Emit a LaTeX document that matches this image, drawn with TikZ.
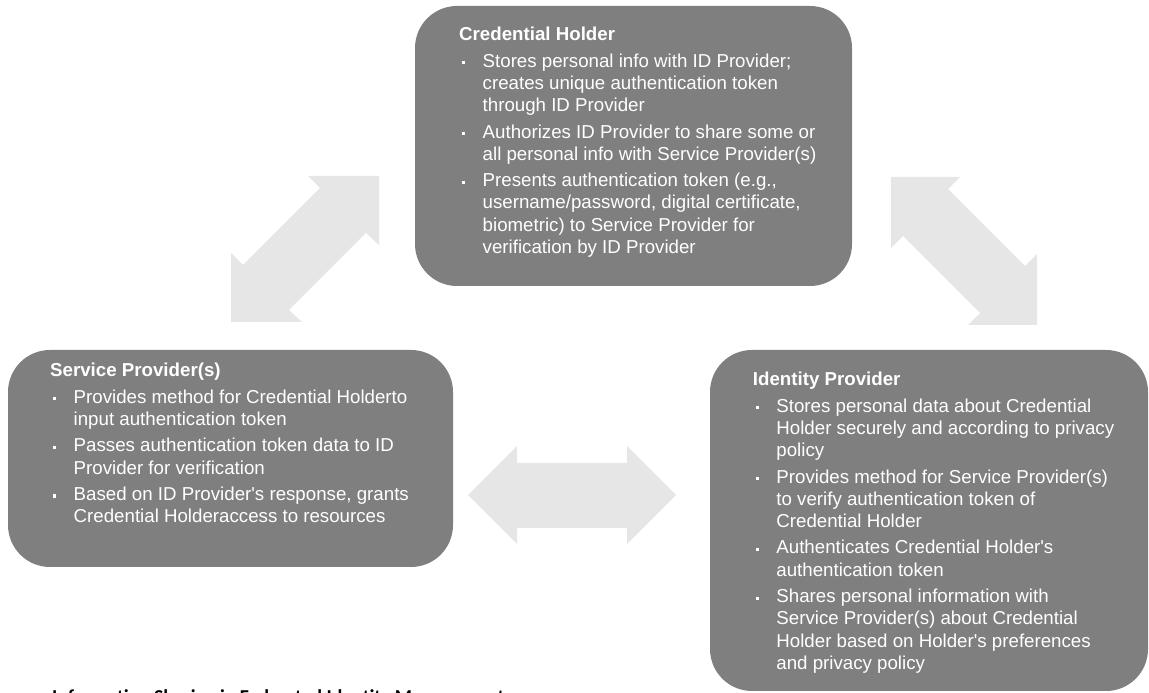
\documentclass[tikz,border=0pt]{standalone}
\usepackage{fontspec}
\newfontfamily\lib{Liberation Sans}
\newfontfamily\capfont{Carlito}
\definecolor{boxgray}{RGB}{127,127,127}
\definecolor{arrowgray}{RGB}{230,230,230}
\newcommand\btitle[1]{\noindent\textbf{#1}\par}
\newcommand\bitem{\par\noindent\hangindent=23.5pt\hangafter=0\llap{\makebox[20.5pt][l]{\raisebox{3pt}{\rule{3.1pt}{3.1pt}}}}}
\newcommand\boxtext[1]{\begin{minipage}[t]{430pt}\lib\fontsize{18.7}{22.2}\selectfont\raggedright\setlength\parskip{4.3pt}#1\end{minipage}}
\tikzset{
  infobox/.style={draw=none, fill=boxgray, rounded corners=42pt, inner sep=0pt},
  infotext/.style={anchor=base west, inner sep=0pt, text=white},
  blockarrow/.style={fill=arrowgray, draw=none}
}
\begin{document}
\begin{tikzpicture}[x=1pt,y=1pt]
\useasboundingbox (0,0) rectangle (1149,693);
% boxes
\node[infobox, minimum width=437pt, minimum height=280pt] (holder) at (633.5,547) {};
\node[infobox, minimum width=445pt, minimum height=217pt] (service) at (230.5,234.5) {};
\node[infobox, minimum width=438pt, minimum height=341pt] (idp) at (929,172.5) {};
% block arrows
\fill[blockarrow] (231,371) -- (231,440) -- (243,428) -- (320,505) -- (308,517) -- (379,517) -- (379,448) -- (366,460) -- (289,383) -- (302,371) -- cycle;
\fill[blockarrow] (891,516) -- (960,516) -- (948,504) -- (1025,427) -- (1037,439) -- (1037,368) -- (968,368) -- (980,380) -- (903,457) -- (891,445) -- cycle;
\fill[blockarrow] (468,198) -- (517,247) -- (517,230) -- (627,230) -- (627,247) -- (676,198) -- (627,149) -- (627,165) -- (517,165) -- (517,149) -- cycle;
% texts
\node[infotext] (holdertxt) at (459,652.3) {\boxtext{%
\btitle{Credential Holder}
\bitem Stores personal info with ID Provider;\newline creates unique authentication token\newline through ID Provider
\bitem Authorizes ID Provider to share some or\newline all personal info with Service Provider(s)
\bitem Presents authentication token (e.g.,\newline username/password, digital certificate,\newline biometric) to Service Provider for\newline verification by ID Provider}};
\node[infotext] (servicetxt) at (50,316.3) {\boxtext{%
\btitle{Service Provider(s)}
\bitem Provides method for Credential Holderto\newline input authentication token
\bitem Passes authentication token data to ID\newline Provider for verification
\bitem Based on ID Provider's response, grants\newline Credential Holderaccess to resources}};
\node[infotext] (idptxt) at (752.7,307.3) {\boxtext{%
\btitle{Identity Provider}
\bitem Stores personal data about Credential\newline Holder securely and according to privacy\newline policy
\bitem Provides method for Service Provider(s)\newline to verify authentication token of\newline Credential Holder
\bitem Authenticates Credential Holder's\newline authentication token
\bitem Shares personal information with\newline Service Provider(s) about Credential\newline Holder based on Holder's preferences\newline and privacy policy}};
% caption (cut by the page edge, as in the reference)
\node[anchor=base west, inner sep=0pt, font=\capfont\bfseries\fontsize{19.7}{24}\selectfont] (caption) at (52,-10.3) {Information Sharing in Federated Identity Management};
\end{tikzpicture}
\end{document}
